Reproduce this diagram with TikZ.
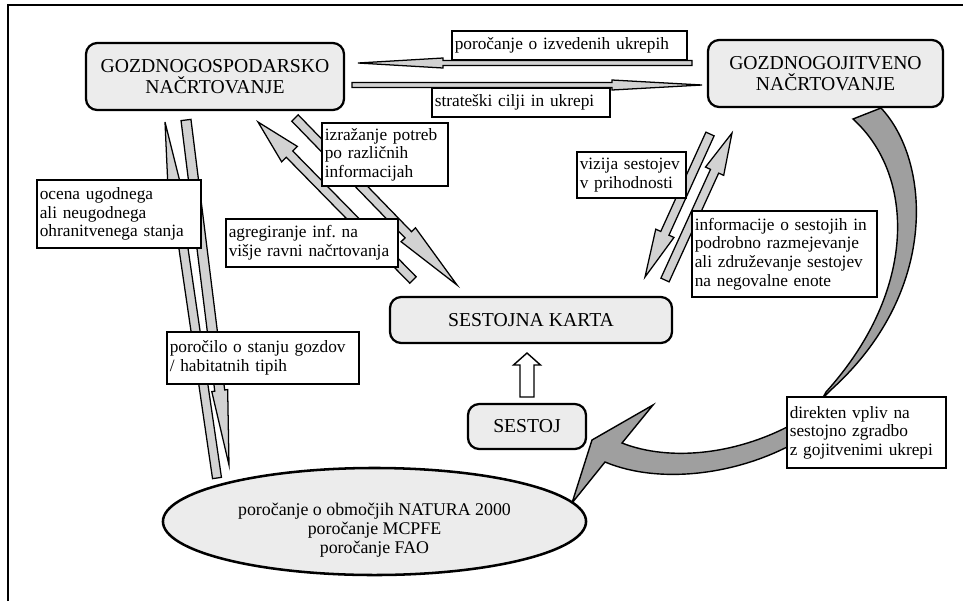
\documentclass[tikz,border=0pt]{standalone}
\usepackage{fontspec}
\setmainfont{Liberation Serif}
\usetikzlibrary{calc,shapes.geometric}

\tikzset{
  plan/.style={draw, line width=1.6pt, rounded corners=8pt, fill=gray!15, align=center, font=\fontsize{14}{14.5}\selectfont, inner sep=0pt},
  lbl/.style={draw, line width=0.9pt, fill=white, align=left, font=\fontsize{12.3}{13.2}\selectfont, inner xsep=2pt, inner ysep=0pt},
  arrowbody/.style={fill=gray!35, draw=black, line width=0.9pt},
  hollow/.style={fill=white, draw=black, line width=1pt},
  bigcurve/.style={fill=gray!75, draw=black, line width=1pt},
}

% slim arrow: [style]{tail}{tip}{shaft half width}{head half width}{head length}, in px
\newcommand{\slimarrow}[6][arrowbody]{%
  \coordinate (hb) at ($(#3)!#6*0.025cm!(#2)$);
  \filldraw[#1] ($(#2)!#4*0.025cm!90:(#3)$) -- ($(hb)!#4*0.025cm!90:(#3)$)
    -- ($(hb)!#5*0.025cm!90:(#3)$) -- (#3) -- ($(hb)!#5*0.025cm!-90:(#3)$)
    -- ($(hb)!#4*0.025cm!-90:(#3)$) -- ($(#2)!#4*0.025cm!-90:(#3)$) -- cycle;
}

\begin{document}
\begin{tikzpicture}[x=0.025cm, y=-0.025cm]
\useasboundingbox (0,0) rectangle (963,601);
% frame
\draw[line width=1.2pt] (8,601) -- (8,5) -- (963,5);

% curved arrow from gozdnogojitveno to the reports
\filldraw[bigcurve] (881,108) .. controls (930,160) and (940,290) .. (833,388)
  -- (800,420) .. controls (740,455) and (670,462) .. (622,443)
  -- (653,405) -- (592,440) -- (572,503) -- (605,462)
  .. controls (660,485) and (740,475) .. (800,440)
  -- (826,392) .. controls (918,290) and (915,175) .. (853,119) -- cycle;

% arrow ends
\coordinate (izvT) at (692,63);  \coordinate (izvH) at (358,63);
\coordinate (strT) at (352,85);  \coordinate (strH) at (702,85);
\coordinate (ocT) at (217,478);  \coordinate (ocH) at (165,122);
\coordinate (poT) at (186,120);  \coordinate (poH) at (229,465);
\coordinate (agT) at (413,280);  \coordinate (agH) at (258,122);
\coordinate (izT) at (295,118);  \coordinate (izH) at (457,285);
\coordinate (viT) at (710,134);  \coordinate (viH) at (645,277);
\coordinate (inT) at (665,280);  \coordinate (inH) at (732,133);
\coordinate (seT) at (527,397);  \coordinate (seH) at (527,353);

\slimarrow{izvT}{izvH}{2.5}{5}{85}
\slimarrow{strT}{strH}{2.5}{5}{90}
\slimarrow{ocT}{ocH}{4.5}{6}{60}
\slimarrow{poT}{poH}{5}{8}{75}
\slimarrow{agT}{agH}{4.5}{11}{45}
\slimarrow{izT}{izH}{4.5}{10}{70}
\slimarrow{viT}{viH}{4.5}{10}{48}
\slimarrow{inT}{inH}{4.5}{10}{42}
\slimarrow[hollow]{seT}{seH}{7}{13.5}{12}

% main boxes
\node[plan, minimum width=6.45cm, minimum height=1.675cm] (gsp) at (215,76.5) {GOZDNOGOSPODARSKO\\NAČRTOVANJE};
\node[plan, minimum width=5.875cm, minimum height=1.675cm] (gjt) at (825.5,73.5) {GOZDNOGOJITVENO\\NAČRTOVANJE};
\node[plan, minimum width=7.05cm, minimum height=1.15cm] (karta) at (531,320) {SESTOJNA KARTA};
\node[plan, minimum width=2.95cm, minimum height=1.125cm] (sestoj) at (527,426.5) {SESTOJ};
\node[draw, ellipse, line width=1.8pt, fill=gray!15, minimum width=10.575cm, minimum height=2.675cm, inner sep=0pt, align=center, font=\fontsize{12.7}{13.4}\selectfont] (porocanje) at (374.5,521.5) {\rule{0pt}{21pt}poročanje o območjih NATURA 2000\\poročanje MCPFE\\poročanje FAO};

% labels
\node[lbl, text width=5.735cm, minimum height=0.725cm] (izvedeni) at (569.5,45.5) {poročanje o izvedenih ukrepih};
\node[lbl, text width=4.31cm, minimum height=0.725cm] (strateski) at (521,102.5) {strateški cilji in ukrepi};
\node[lbl, text width=3.01cm, minimum height=1.575cm] (potrebe) at (385,154.5) {izražanje potreb\\po različnih\\informacijah};
\node[lbl, text width=3.96cm, minimum height=1.7cm] (ocena) at (119,214) {ocena ugodnega\\ali neugodnega\\ohranitvenega stanja};
\node[lbl, text width=4.16cm, minimum height=1.2cm] (agregiranje) at (312,243) {agregiranje inf.\ na\\višje ravni načrtovanja};
\node[lbl, text width=2.585cm, minimum height=1.15cm] (vizija) at (631.5,175) {vizija sestojev\\v prihodnosti};
\node[lbl, text width=4.485cm, minimum height=2.15cm] (informacije) at (784.5,254) {informacije o sestojih in\\podrobno razmejevanje\\ali združevanje sestojev\\na negovalne enote};
\node[lbl, text width=4.66cm, minimum height=1.3cm] (porocilo) at (263,358) {poročilo o stanju gozdov\\/ habitatnih tipih};
\node[lbl, text width=3.835cm, minimum height=1.775cm] (direkten) at (866.5,432.5) {direkten vpliv na\\sestojno zgradbo\\z gojitvenimi ukrepi};
\end{tikzpicture}
\end{document}
